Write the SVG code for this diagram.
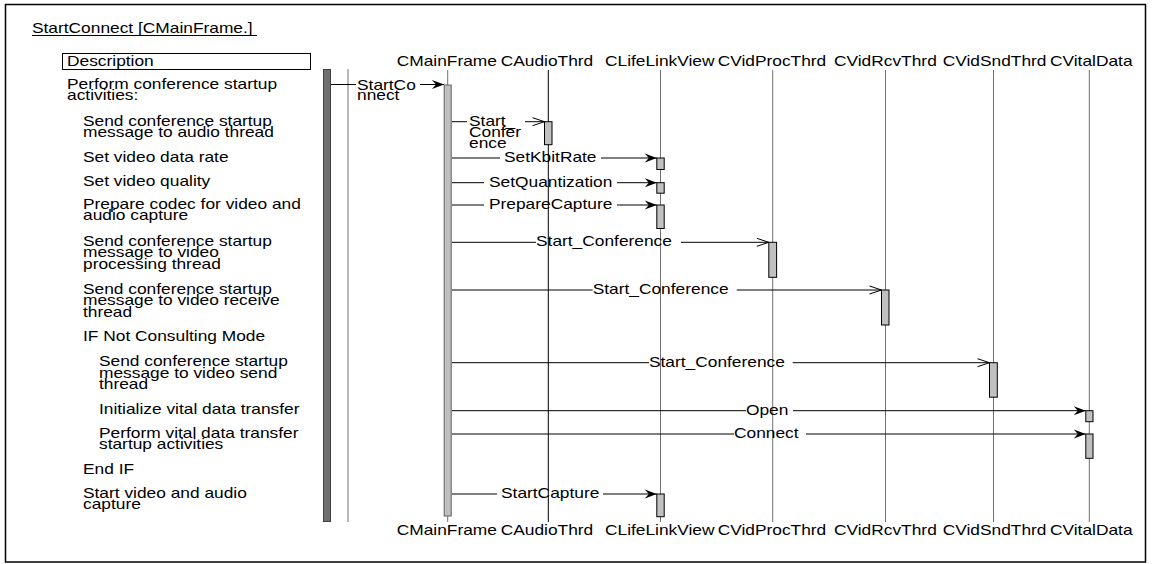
<svg xmlns="http://www.w3.org/2000/svg" width="1154" height="564" viewBox="0 0 1154 564">
<style>
text{font-family:"Liberation Sans",Arial,Helvetica,sans-serif;font-size:14px;fill:#000;transform-box:fill-box;transform-origin:0 0;transform:scaleX(1.24)}
.life{stroke:#707070;stroke-width:1;fill:none}
.lifeb{stroke:#000;stroke-width:1;fill:none}
.act{fill:#c0c0c0;stroke:#000;stroke-width:1}
.msg{stroke:#000;stroke-width:1;fill:none}
.fill{marker-end:url(#ah)}
.open{marker-end:url(#oh)}
</style>
<defs>
<marker id="ah" viewBox="-13 -5 14 10" refX="0" refY="0" markerWidth="14" markerHeight="10" markerUnits="userSpaceOnUse" orient="auto">
<path d="M0,0 L-12,-4.5 L-8,0 L-12,4.5 Z" fill="#000"/>
</marker>
<marker id="oh" viewBox="-13 -5 14 10" refX="0" refY="0" markerWidth="14" markerHeight="10" markerUnits="userSpaceOnUse" orient="auto">
<path d="M-12,-4 L0,0 L-12,4" fill="none" stroke="#000" stroke-width="1"/>
</marker>
</defs>
<rect x="0" y="0" width="1154" height="564" fill="#fff"/>
<g id="frame">
<rect x="5.5" y="4.5" width="1140" height="557.5" fill="none" stroke="#000" stroke-width="1.5"/>
<text x="32" y="33">StartConnect [CMainFrame.]</text>
<line x1="32" y1="35.5" x2="257" y2="35.5" stroke="#000" stroke-width="1"/>
</g>
<g id="description">
<rect x="62.5" y="53.5" width="248" height="16" fill="#fff" stroke="#000" stroke-width="1"/>
<text x="67" y="66">Description</text>
<text x="67" y="89">Perform conference startup</text>
<text x="67" y="100">activities:</text>
<text x="83" y="126">Send conference startup</text>
<text x="83" y="137">message to audio thread</text>
<text x="83" y="162">Set video data rate</text>
<text x="83" y="186.5">Set video quality</text>
<text x="83" y="209">Prepare codec for video and</text>
<text x="83" y="220">audio capture</text>
<text x="83" y="246">Send conference startup</text>
<text x="83" y="257.5">message to video</text>
<text x="83" y="269">processing thread</text>
<text x="83" y="294">Send conference startup</text>
<text x="83" y="305.5">message to video receive</text>
<text x="83" y="317">thread</text>
<text x="83" y="341.5">IF Not Consulting Mode</text>
<text x="99" y="366.5">Send conference startup</text>
<text x="99" y="378">message to video send</text>
<text x="99" y="389.5">thread</text>
<text x="99" y="414.5">Initialize vital data transfer</text>
<text x="99" y="438">Perform vital data transfer</text>
<text x="99" y="449.5">startup activities</text>
<text x="83" y="474">End IF</text>
<text x="83" y="498">Start video and audio</text>
<text x="83" y="509.5">capture</text>
</g>
<g id="caller">
<rect x="323.5" y="69.5" width="7" height="452" fill="#707070" stroke="#404040" stroke-width="1"/>
<line x1="348" y1="69" x2="348" y2="522" class="life"/>
</g>
<g id="CMainFrame">
<text x="396.7" y="66">CMainFrame</text>
<line x1="447.7" y1="70" x2="447.7" y2="522" class="life"/>
<rect x="444.2" y="85" width="7" height="431" fill="#c0c0c0" stroke="#606060" stroke-width="1"/>
<text x="396.7" y="535">CMainFrame</text>
</g>
<g id="CAudioThrd">
<text x="500.7" y="66">CAudioThrd</text>
<line x1="548.3" y1="70" x2="548.3" y2="522" class="lifeb"/>
<rect x="544.5" y="121.7" width="7.5" height="23" class="act"/>
<text x="500.7" y="535">CAudioThrd</text>
</g>
<g id="CLifeLinkView">
<text x="605" y="66">CLifeLinkView</text>
<line x1="660.5" y1="70" x2="660.5" y2="522" class="life"/>
<rect x="656.8" y="158" width="7.4" height="11.5" class="act"/>
<rect x="656.8" y="182.7" width="7.4" height="10.5" class="act"/>
<rect x="656.8" y="205" width="7.4" height="23.5" class="act"/>
<rect x="656.8" y="494" width="7.4" height="22.7" class="act"/>
<text x="605" y="535">CLifeLinkView</text>
</g>
<g id="CVidProcThrd">
<text x="717.7" y="66">CVidProcThrd</text>
<line x1="772.7" y1="70" x2="772.7" y2="522" class="life"/>
<rect x="768.8" y="242.3" width="7.8" height="35" class="act"/>
<text x="717.7" y="535">CVidProcThrd</text>
</g>
<g id="CVidRcvThrd">
<text x="834" y="66">CVidRcvThrd</text>
<line x1="885.5" y1="70" x2="885.5" y2="522" class="life"/>
<rect x="881.5" y="290" width="7.5" height="35" class="act"/>
<text x="834" y="535">CVidRcvThrd</text>
</g>
<g id="CVidSndThrd">
<text x="942.7" y="66">CVidSndThrd</text>
<line x1="993.5" y1="70" x2="993.5" y2="522" class="life"/>
<rect x="989.5" y="362.7" width="7.8" height="34.5" class="act"/>
<text x="942.7" y="535">CVidSndThrd</text>
</g>
<g id="CVitalData">
<text x="1050" y="66">CVitalData</text>
<line x1="1089.3" y1="70" x2="1089.3" y2="522" class="life"/>
<rect x="1085.8" y="410.7" width="7.2" height="11" class="act"/>
<rect x="1085.8" y="434" width="7.2" height="24.3" class="act"/>
<text x="1050" y="535">CVitalData</text>
</g>
<g id="connectors">
<line x1="331" y1="84.5" x2="356" y2="84.5" class="msg"/>
<line x1="420" y1="84.5" x2="444" y2="84.5" class="msg fill"/>
<text x="357" y="90.5">StartCo</text>
<text x="357" y="100.5">nnect</text>

<line x1="452" y1="121.7" x2="467" y2="121.7" class="msg"/>
<line x1="525" y1="121.7" x2="544.5" y2="121.7" class="msg open"/>
<text x="469" y="125.7">Start_</text>
<text x="469" y="137">Confer</text>
<text x="469" y="148">ence</text>

<line x1="452" y1="158" x2="500" y2="158" class="msg"/>
<line x1="601" y1="158" x2="656.8" y2="158" class="msg fill"/>
<text x="504" y="162.5">SetKbitRate</text>

<line x1="452" y1="182.7" x2="484" y2="182.7" class="msg"/>
<line x1="617" y1="182.7" x2="656.8" y2="182.7" class="msg fill"/>
<text x="489" y="187.2">SetQuantization</text>

<line x1="452" y1="205" x2="484" y2="205" class="msg"/>
<line x1="617" y1="205" x2="656.8" y2="205" class="msg fill"/>
<text x="489" y="209.5">PrepareCapture</text>

<line x1="452" y1="242.3" x2="536" y2="242.3" class="msg"/>
<line x1="681" y1="242.3" x2="768.8" y2="242.3" class="msg open"/>
<text x="536" y="246.5">Start_Conference</text>

<line x1="452" y1="290" x2="592.7" y2="290" class="msg"/>
<line x1="736.7" y1="290" x2="881.5" y2="290" class="msg open"/>
<text x="592.7" y="294.2">Start_Conference</text>

<line x1="452" y1="362.7" x2="649" y2="362.7" class="msg"/>
<line x1="792.7" y1="362.7" x2="989.5" y2="362.7" class="msg open"/>
<text x="649" y="366.9">Start_Conference</text>

<line x1="452" y1="410.7" x2="746" y2="410.7" class="msg"/>
<line x1="793" y1="410.7" x2="1085.8" y2="410.7" class="msg fill"/>
<text x="746" y="415.2">Open</text>

<line x1="452" y1="434" x2="734" y2="434" class="msg"/>
<line x1="806" y1="434" x2="1085.8" y2="434" class="msg fill"/>
<text x="734" y="438.5">Connect</text>

<line x1="452" y1="494" x2="497" y2="494" class="msg"/>
<line x1="603" y1="494" x2="656.8" y2="494" class="msg fill"/>
<text x="501" y="498.5">StartCapture</text>
</g>
</svg>
